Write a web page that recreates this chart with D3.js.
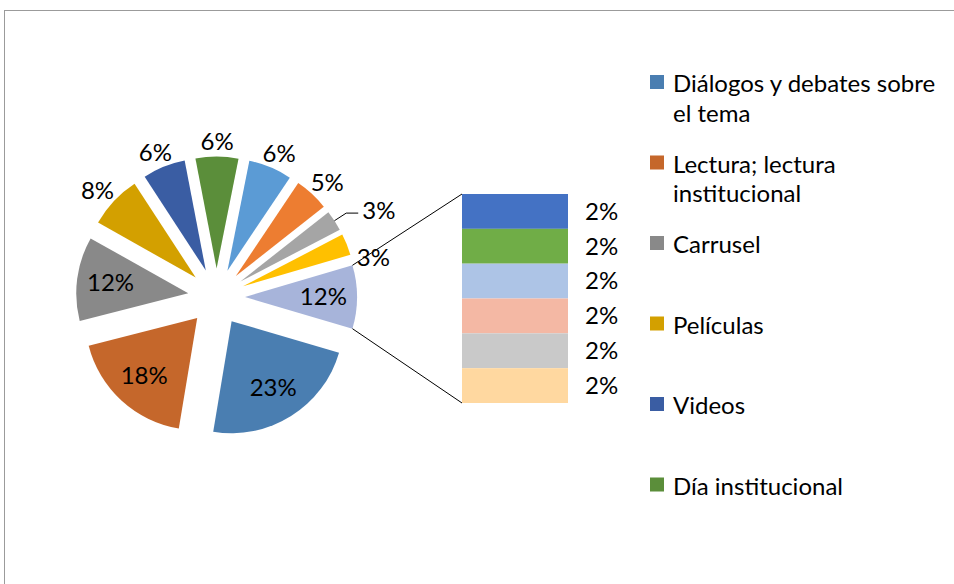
<!DOCTYPE html>
<html><head><meta charset="utf-8">
<script src="https://cdn.jsdelivr.net/npm/d3@7"></script>
<style>
body{margin:0;background:#fff}
svg{display:block}
text{font-family:Lato,"Open Sans",sans-serif;font-size:24px;fill:#000}
</style>
</head><body>
<svg id="chart" width="954" height="584"></svg>
<script>
// ---- data ----
const categories = ["Diálogos y debates sobre\nel tema","Lectura; lectura\ninstitucional","Carrusel","Películas","Videos","Día institucional","Categoría 7","Categoría 8","Categoría 9","Categoría 10"];
const values = [23.2,18.5,12.2,7.7,6.2,6.2,6.3,5.0,3.0,3.1];
const valueLabels = ["23%","18%","12%","8%","6%","6%","6%","5%","3%","3%"];
const colors = ["#4A7EB1","#C5672B","#898989","#D3A000","#3A5DA3","#5B8E3A","#5B9BD5","#ED7D31","#A5A5A5","#FFC000"];
const otherLabel = "12%";
const otherColor = "#A7B4DA";
const subCategories = ["Categoría 11","Categoría 12","Categoría 13","Categoría 14","Categoría 15","Categoría 16"];
const subValues = [1.53,1.53,1.53,1.53,1.53,1.53];
const subLabels = ["2%","2%","2%","2%","2%","2%"];
const subColors = ["#4472C4","#70AD47","#ADC4E6","#F4B8A4","#C9C9C9","#FFD8A0"];
const legendCount = 6;

// ---- layout ----
const svg = d3.select("#chart");
svg.append("rect").attr("x",4.5).attr("y",10.5).attr("width",2000).attr("height",2000)
  .attr("fill","none").attr("stroke","#9b9b9b").attr("stroke-width",1);

const cx = 216.5, cy = 297, R = 112, explode = 28.5;
const sumSub = d3.sum(subValues), sumMain = d3.sum(values);
const otherAngle = 2*Math.PI*sumSub/(sumSub+sumMain);
const start = Math.PI/2 - otherAngle/2;

const pieData = [{v:sumSub,label:otherLabel,color:otherColor,other:true}]
  .concat(values.map((v,i)=>({v,label:valueLabels[i],color:colors[i],idx:i})));
const arcs = d3.pie().sort(null).value(d=>d.v).startAngle(start).endAngle(start+2*Math.PI)(pieData);
const arc = d3.arc().innerRadius(0).outerRadius(R);

const g = svg.append("g");
arcs.forEach(a=>{
  const mid = (a.startAngle+a.endAngle)/2;
  a.dir = [Math.sin(mid), -Math.cos(mid)];
  a.ex = [cx + explode*a.dir[0], cy + explode*a.dir[1]];
});

g.selectAll("path").data(arcs).join("path")
  .attr("transform",d=>`translate(${d.ex[0]},${d.ex[1]})`)
  .attr("d",arc).attr("fill",d=>d.data.color);

// labels
const lab = svg.append("g");
arcs.forEach(a=>{
  const share = a.data.v/(sumSub+sumMain);
  const [dx,dy] = a.dir, [ex,ey] = a.ex;
  if (share >= 0.085) {
    lab.append("text").attr("x",ex+0.7*R*dx).attr("y",ey+0.7*R*dy)
      .attr("text-anchor","middle").attr("dy","0.35em").text(a.data.label);
  } else if (share >= 0.04) {
    const t = lab.append("text").attr("text-anchor","middle").attr("dy","0.35em").text(a.data.label);
    const hw = t.node().getComputedTextLength()/2, hh = 9;
    t.attr("x",ex+(R+6)*dx+hw*dx).attr("y",ey+(R+6)*dy+hh*dy);
  } else {
    const px = ex+R*dx, py = ey+R*dy;
    if (a.data.idx === 8) {
      const elx = px+14*dx, ely = py+14*dy;
      lab.append("path").attr("d",`M${px},${py}L${elx},${ely}H${elx+12}`)
        .attr("fill","none").attr("stroke","#000").attr("stroke-width",1);
      lab.append("text").attr("x",elx+16).attr("y",ely-2).attr("dy","0.35em").text(a.data.label);
    } else {
      lab.append("text").attr("x",px+10).attr("y",py+13).attr("dy","0.35em").text(a.data.label);
    }
  }
});

// secondary bar
const barX = 462, barW = 106, barTop = 194, barH = 209;
const y = d3.scaleLinear().domain([0,sumSub]).range([barTop,barTop+barH]);
const stack = [];
let acc = 0;
subValues.forEach((v,i)=>{stack.push({y0:acc,y1:acc+v,i}); acc+=v;});
svg.append("g").selectAll("rect").data(stack).join("rect")
  .attr("x",barX).attr("width",barW)
  .attr("y",d=>y(d.y0)).attr("height",d=>y(d.y1)-y(d.y0))
  .attr("fill",d=>subColors[d.i]);
svg.append("g").selectAll("text").data(stack).join("text")
  .attr("x",barX+barW+17).attr("y",d=>(y(d.y0)+y(d.y1))/2).attr("dy","0.35em")
  .text(d=>subLabels[d.i]);

// connector lines
const oa = arcs[0];
const c1 = [oa.ex[0]+R*Math.sin(oa.startAngle), oa.ex[1]-R*Math.cos(oa.startAngle)];
const c2 = [oa.ex[0]+R*Math.sin(oa.endAngle), oa.ex[1]-R*Math.cos(oa.endAngle)];
svg.append("line").attr("x1",c1[0]).attr("y1",c1[1]).attr("x2",barX).attr("y2",y(0))
  .attr("stroke","#000").attr("stroke-width",1);
svg.append("line").attr("x1",c2[0]).attr("y1",c2[1]).attr("x2",barX).attr("y2",y(sumSub))
  .attr("stroke","#000").attr("stroke-width",1);

// legend
const leg = svg.append("g");
categories.slice(0,legendCount).forEach((name,i)=>{
  const top = 75 + i*80.5;
  leg.append("rect").attr("x",650).attr("y",top).attr("width",14).attr("height",14).attr("fill",colors[i]);
  const t = leg.append("text").attr("x",673).attr("y",top+17.3);
  name.split("\n").forEach((line,j)=>{
    t.append("tspan").attr("x",673).attr("dy",j?29.5:0).text(line);
  });
});
</script>
</body></html>
